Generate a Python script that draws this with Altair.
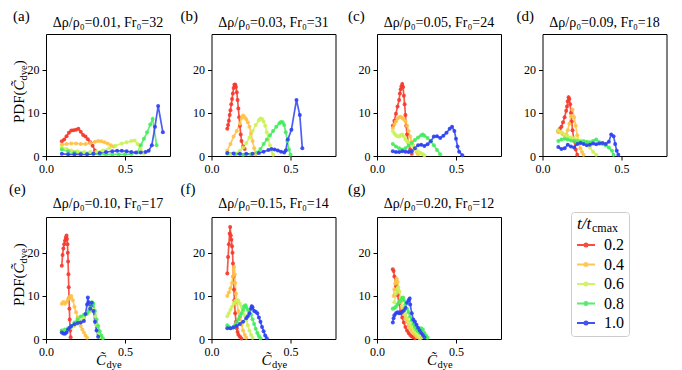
import altair as alt
import pandas as pd

SERIF = "Liberation Serif"
SERIES = ["0.2", "0.4", "0.6", "0.8", "1.0"]
COLORS = ["#f53a2e", "#ffc247", "#cdf25a", "#45ec5e", "#2d42f2"]
LETTERS = ["(a)", "(b)", "(c)", "(d)", "(e)", "(f)", "(g)"]
TITLES = ["Δρ/ρ₀=0.01, Fr₀=32", "Δρ/ρ₀=0.03, Fr₀=31", "Δρ/ρ₀=0.05, Fr₀=24",
          "Δρ/ρ₀=0.09, Fr₀=18", "Δρ/ρ₀=0.10, Fr₀=17", "Δρ/ρ₀=0.15, Fr₀=14",
          "Δρ/ρ₀=0.20, Fr₀=12"]
X_TICKS = [0.0, 0.5]
Y_TICKS = [0, 10, 20]
X_DOMAIN = [0, 0.785]
Y_DOMAIN = [0, 28.3]
Y_TITLE_PARTS = ["PDF(", "C̃", "dye", ")"]
X_TITLE_PARTS = ["C̃", "dye"]
LEGEND_TITLE_PARTS = ["t/t", "cmax"]

panel_a = {
    "0.2": ([0.10, 0.115, 0.13, 0.145, 0.16, 0.175, 0.19, 0.205, 0.22, 0.235, 0.25, 0.265, 0.28, 0.295, 0.31],
            [3.4, 3.8, 4.6, 5.4, 5.9, 6.0, 6.1, 6.3, 5.6, 4.9, 4.5, 3.9, 3.2, 2.4, 1.3]),
    "0.4": ([0.10, 0.13, 0.16, 0.19, 0.22, 0.25, 0.28, 0.31, 0.33, 0.35, 0.37, 0.39, 0.41, 0.43],
            [2.6, 2.8, 2.9, 2.9, 2.8, 2.8, 3.0, 3.3, 3.5, 3.4, 3.2, 2.9, 2.5, 2.2]),
    "0.6": ([0.10, 0.13, 0.16, 0.20, 0.24, 0.28, 0.32, 0.36, 0.40, 0.44, 0.48, 0.51, 0.54, 0.56, 0.58, 0.60, 0.62],
            [2.0, 1.6, 1.3, 1.1, 0.9, 0.9, 1.0, 1.3, 1.8, 2.4, 2.9, 3.2, 3.5, 3.6, 2.8, 1.6, 0.6]),
    "0.8": ([0.10, 0.14, 0.18, 0.22, 0.26, 0.30, 0.34, 0.38, 0.42, 0.46, 0.50, 0.54, 0.58, 0.60, 0.62, 0.64, 0.66, 0.675, 0.70],
            [1.5, 1.1, 0.8, 0.6, 0.5, 0.5, 0.4, 0.4, 0.4, 0.4, 0.4, 0.5, 0.8, 2.5, 4.0, 5.5, 7.3, 8.6, 2.5]),
    "1.0": ([0.10, 0.14, 0.18, 0.22, 0.26, 0.30, 0.34, 0.38, 0.42, 0.45, 0.48, 0.51, 0.54, 0.57, 0.60, 0.63, 0.65, 0.67, 0.69, 0.71, 0.74],
            [0.5, 0.4, 0.4, 0.4, 0.4, 0.5, 0.7, 0.9, 1.1, 1.2, 1.2, 1.1, 0.9, 0.8, 0.8, 0.9, 1.2, 2.5, 6.8, 11.6, 5.5]),
}
panel_b = {
    "0.2": ([0.10, 0.105, 0.11, 0.115, 0.12, 0.125, 0.13, 0.135, 0.14, 0.145, 0.15, 0.155, 0.16, 0.165, 0.17, 0.175, 0.18, 0.185, 0.19, 0.20, 0.21],
            [6.3, 7.2, 8.2, 9.5, 10.6, 12.0, 13.2, 14.5, 15.8, 16.5, 16.6, 16.0, 14.8, 13.0, 11.0, 9.0, 7.0, 5.0, 3.5, 2.2, 1.6]),
    "0.4": ([0.10, 0.12, 0.14, 0.16, 0.18, 0.19, 0.20, 0.21, 0.22, 0.23, 0.24, 0.25, 0.26, 0.27, 0.28],
            [1.2, 2.8, 4.5, 5.8, 7.5, 8.8, 9.4, 9.0, 8.5, 7.8, 6.8, 5.2, 3.5, 1.8, 0.4]),
    "0.6": ([0.12, 0.15, 0.18, 0.20, 0.22, 0.24, 0.26, 0.28, 0.30, 0.31, 0.32, 0.33, 0.34, 0.35, 0.36, 0.37, 0.38, 0.39],
            [0.4, 0.6, 1.2, 2.0, 3.0, 4.3, 5.8, 7.2, 8.3, 8.7, 8.6, 8.0, 7.0, 5.5, 4.0, 2.5, 1.2, 0.3]),
    "0.8": ([0.10, 0.15, 0.20, 0.25, 0.29, 0.31, 0.33, 0.35, 0.37, 0.39, 0.41, 0.43, 0.44, 0.45, 0.46, 0.47, 0.48, 0.49, 0.50],
            [0.5, 0.4, 0.3, 0.4, 0.8, 1.6, 2.8, 3.8, 4.8, 5.8, 6.8, 7.6, 7.9, 7.8, 7.2, 5.5, 3.5, 1.5, 0.3]),
    "1.0": ([0.10, 0.14, 0.18, 0.22, 0.26, 0.30, 0.33, 0.36, 0.38, 0.40, 0.42, 0.44, 0.46, 0.47, 0.483, 0.506, 0.538, 0.559, 0.575],
            [0.7, 0.6, 0.5, 0.5, 0.5, 0.7, 1.0, 1.4, 1.6, 1.5, 1.3, 1.0, 0.8, 1.3, 3.8, 6.1, 13.0, 9.5, 1.8]),
}
panel_c = {
    "0.2": ([0.10, 0.11, 0.12, 0.13, 0.14, 0.145, 0.15, 0.155, 0.16, 0.165, 0.17, 0.175, 0.18, 0.185, 0.19, 0.20, 0.21, 0.22],
            [7.0, 8.2, 9.8, 11.5, 13.0, 14.5, 15.5, 16.2, 16.7, 16.0, 14.0, 12.0, 9.5, 7.0, 5.0, 3.0, 1.5, 0.5]),
    "0.4": ([0.10, 0.11, 0.12, 0.13, 0.14, 0.15, 0.16, 0.17, 0.18, 0.19, 0.20, 0.21, 0.22, 0.23, 0.24, 0.25, 0.26],
            [6.5, 7.3, 8.0, 8.7, 9.0, 9.1, 8.8, 8.5, 8.0, 7.0, 5.8, 4.5, 3.3, 2.4, 1.6, 0.9, 0.4]),
    "0.6": ([0.10, 0.11, 0.12, 0.13, 0.14, 0.15, 0.16, 0.17, 0.18, 0.19, 0.20, 0.21, 0.22, 0.23, 0.24, 0.25, 0.26, 0.27, 0.28, 0.29, 0.30],
            [5.8, 5.2, 4.8, 4.6, 4.5, 4.8, 5.0, 4.5, 3.8, 3.5, 3.2, 3.0, 2.6, 2.2, 1.8, 1.4, 1.0, 0.8, 0.6, 0.4, 0.2]),
    "0.8": ([0.10, 0.12, 0.14, 0.16, 0.18, 0.20, 0.22, 0.24, 0.26, 0.28, 0.29, 0.30, 0.32, 0.34, 0.36, 0.38, 0.40],
            [2.8, 2.2, 1.8, 1.5, 1.8, 2.4, 3.0, 3.7, 4.3, 4.8, 5.0, 4.7, 4.2, 3.4, 2.5, 1.4, 0.4]),
    "1.0": ([0.10, 0.12, 0.14, 0.16, 0.18, 0.20, 0.22, 0.24, 0.26, 0.28, 0.30, 0.32, 0.34, 0.36, 0.38, 0.40, 0.42, 0.44, 0.46, 0.475, 0.49, 0.50, 0.51, 0.52, 0.54],
            [1.1, 0.9, 0.9, 1.1, 1.0, 0.9, 1.1, 1.8, 2.5, 2.6, 2.3, 2.7, 3.4, 4.5, 4.6, 4.2, 4.7, 5.4, 6.3, 6.8, 5.8, 4.0, 2.2, 1.0, 0.2]),
}
panel_d = {
    "0.2": ([0.10, 0.11, 0.12, 0.13, 0.14, 0.15, 0.155, 0.16, 0.165, 0.17, 0.175, 0.18, 0.185, 0.19, 0.20, 0.21, 0.22],
            [5.8, 6.3, 6.8, 7.8, 9.0, 10.5, 11.5, 12.7, 13.6, 13.2, 12.0, 10.0, 8.0, 6.0, 3.5, 1.5, 0.3]),
    "0.4": ([0.10, 0.11, 0.12, 0.13, 0.14, 0.15, 0.16, 0.17, 0.18, 0.19, 0.20, 0.21, 0.22, 0.23, 0.24, 0.25, 0.26],
            [5.5, 5.6, 5.4, 5.0, 4.8, 5.0, 6.0, 7.5, 9.3, 10.8, 9.0, 7.0, 4.8, 3.0, 1.8, 0.9, 0.3]),
    "0.6": ([0.10, 0.12, 0.14, 0.16, 0.18, 0.20, 0.22, 0.24, 0.26, 0.28, 0.30, 0.32, 0.34],
            [6.0, 5.5, 5.0, 4.6, 4.3, 4.1, 3.8, 3.6, 3.4, 2.9, 2.0, 1.0, 0.3]),
    "0.8": ([0.10, 0.12, 0.14, 0.16, 0.18, 0.20, 0.22, 0.24, 0.26, 0.28, 0.30, 0.32, 0.34, 0.36, 0.38, 0.40, 0.42, 0.44, 0.45],
            [3.5, 3.8, 4.0, 3.8, 3.6, 3.5, 3.4, 3.3, 3.4, 3.3, 3.2, 3.5, 3.8, 3.2, 2.8, 2.5, 2.0, 1.2, 0.3]),
    "1.0": ([0.10, 0.12, 0.14, 0.16, 0.18, 0.20, 0.22, 0.24, 0.26, 0.28, 0.30, 0.32, 0.34, 0.36, 0.38, 0.40, 0.42, 0.435, 0.45, 0.46, 0.47, 0.48],
            [2.1, 1.6, 1.8, 2.6, 2.2, 2.0, 2.8, 3.0, 2.8, 2.5, 2.6, 2.9, 2.7, 2.9, 3.0, 2.8, 3.3, 5.0, 4.6, 2.8, 1.2, 0.3]),
}
panel_e = {
    "0.2": ([0.10, 0.105, 0.11, 0.115, 0.12, 0.125, 0.13, 0.133, 0.136, 0.138, 0.14, 0.142, 0.144, 0.146, 0.148, 0.15, 0.153, 0.156],
            [17.0, 19.5, 21.0, 22.0, 22.8, 23.5, 24.0, 23.2, 22.0, 20.0, 18.0, 15.0, 12.0, 9.5, 7.0, 4.5, 2.0, 0.4]),
    "0.4": ([0.10, 0.11, 0.12, 0.13, 0.14, 0.15, 0.16, 0.17, 0.18, 0.19, 0.20, 0.21, 0.22, 0.23, 0.24, 0.25, 0.26],
            [8.2, 8.6, 8.2, 8.6, 9.2, 9.7, 10.0, 9.0, 7.5, 6.2, 5.0, 4.0, 3.0, 2.2, 1.5, 0.8, 0.3]),
    "0.6": ([0.10, 0.12, 0.14, 0.16, 0.18, 0.20, 0.22, 0.24, 0.26, 0.28, 0.29, 0.30, 0.31, 0.32, 0.33, 0.34],
            [2.0, 2.0, 2.2, 2.6, 3.0, 3.5, 4.2, 5.0, 5.8, 6.5, 7.0, 6.8, 5.2, 3.2, 1.5, 0.4]),
    "0.8": ([0.10, 0.12, 0.14, 0.16, 0.18, 0.20, 0.22, 0.24, 0.26, 0.27, 0.28, 0.29, 0.30, 0.31, 0.32, 0.33, 0.34, 0.35, 0.36],
            [2.0, 2.2, 2.5, 3.0, 3.8, 4.5, 5.2, 5.6, 6.0, 6.5, 7.2, 8.5, 8.2, 6.5, 4.5, 3.0, 1.8, 0.8, 0.2]),
    "1.0": ([0.10, 0.11, 0.12, 0.13, 0.14, 0.15, 0.16, 0.18, 0.20, 0.22, 0.24, 0.25, 0.26, 0.265, 0.27, 0.28, 0.29, 0.30, 0.31, 0.32, 0.33],
            [1.5, 1.3, 1.2, 1.5, 2.2, 2.6, 3.0, 3.4, 3.7, 3.8, 4.2, 5.8, 8.0, 9.6, 8.5, 7.0, 8.4, 6.5, 4.0, 2.0, 0.5]),
}
panel_f = {
    "0.2": ([0.10, 0.105, 0.11, 0.115, 0.118, 0.122, 0.126, 0.13, 0.133, 0.136, 0.139, 0.142, 0.145, 0.15, 0.155, 0.16, 0.165, 0.17, 0.18, 0.19],
            [15.2, 19.0, 22.0, 24.5, 26.0, 24.0, 23.0, 21.5, 20.0, 17.5, 14.5, 11.5, 9.0, 6.0, 4.0, 2.5, 1.6, 1.0, 0.5, 0.1]),
    "0.4": ([0.10, 0.11, 0.12, 0.13, 0.135, 0.14, 0.143, 0.147, 0.15, 0.155, 0.16, 0.17, 0.18, 0.19, 0.20, 0.21, 0.22],
            [10.0, 10.8, 11.8, 13.0, 14.5, 16.0, 16.7, 15.0, 13.0, 10.5, 8.5, 6.5, 4.8, 3.3, 2.0, 1.0, 0.3]),
    "0.6": ([0.10, 0.11, 0.12, 0.13, 0.14, 0.15, 0.16, 0.165, 0.17, 0.18, 0.19, 0.20, 0.21, 0.22, 0.23, 0.24, 0.25, 0.26],
            [5.3, 6.0, 6.8, 7.5, 8.2, 8.8, 9.0, 9.0, 8.8, 8.2, 7.5, 6.5, 5.5, 4.3, 3.2, 2.0, 1.0, 0.3]),
    "0.8": ([0.10, 0.11, 0.12, 0.13, 0.14, 0.15, 0.16, 0.17, 0.18, 0.19, 0.20, 0.207, 0.215, 0.22, 0.23, 0.24, 0.25, 0.26, 0.27, 0.28, 0.29, 0.30, 0.31],
            [3.2, 2.8, 2.5, 2.5, 2.8, 3.3, 3.9, 4.6, 5.3, 6.0, 6.8, 7.6, 7.8, 7.3, 6.8, 6.3, 5.6, 4.6, 3.5, 2.4, 1.4, 0.7, 0.2]),
    "1.0": ([0.10, 0.12, 0.14, 0.16, 0.18, 0.20, 0.22, 0.23, 0.24, 0.25, 0.255, 0.26, 0.27, 0.28, 0.29, 0.30, 0.31, 0.32, 0.33, 0.34, 0.35],
            [2.5, 2.5, 2.7, 3.0, 3.5, 4.0, 4.8, 5.3, 6.0, 7.0, 7.6, 7.3, 6.5, 6.3, 6.0, 5.0, 4.0, 2.8, 1.8, 0.8, 0.2]),
}
panel_g = {
    "0.2": ([0.10, 0.105, 0.11, 0.12, 0.13, 0.14, 0.15, 0.16, 0.17, 0.18, 0.19, 0.20, 0.21, 0.22, 0.23, 0.24],
            [16.2, 15.8, 14.5, 12.3, 10.2, 8.3, 6.5, 5.0, 3.8, 2.8, 2.0, 1.4, 0.9, 0.6, 0.4, 0.2]),
    "0.4": ([0.105, 0.11, 0.115, 0.12, 0.125, 0.13, 0.14, 0.15, 0.16, 0.17, 0.18, 0.19, 0.20, 0.21, 0.22, 0.23, 0.24, 0.25, 0.26, 0.27],
            [10.0, 11.5, 12.8, 13.5, 14.0, 13.2, 11.0, 8.5, 7.0, 5.8, 4.8, 4.0, 3.2, 2.5, 1.9, 1.4, 1.0, 0.6, 0.4, 0.2]),
    "0.6": ([0.11, 0.12, 0.13, 0.135, 0.14, 0.15, 0.16, 0.17, 0.18, 0.19, 0.20, 0.21, 0.22, 0.23, 0.24, 0.25, 0.26, 0.27, 0.28],
            [8.5, 10.5, 11.8, 12.0, 11.0, 9.0, 7.5, 6.5, 5.6, 4.8, 4.0, 3.3, 2.7, 2.1, 1.6, 1.2, 0.8, 0.5, 0.3]),
    "0.8": ([0.10, 0.11, 0.12, 0.13, 0.14, 0.15, 0.16, 0.165, 0.17, 0.18, 0.19, 0.20, 0.21, 0.22, 0.23, 0.24, 0.25, 0.26, 0.27, 0.28, 0.29, 0.30, 0.31, 0.32],
            [7.0, 7.2, 7.5, 8.0, 8.5, 9.0, 9.5, 9.6, 9.0, 8.0, 7.0, 6.2, 5.2, 4.3, 3.5, 2.8, 2.2, 1.8, 1.5, 2.5, 2.2, 1.4, 0.8, 0.3]),
    "1.0": ([0.10, 0.105, 0.11, 0.12, 0.13, 0.14, 0.15, 0.16, 0.17, 0.18, 0.19, 0.20, 0.207, 0.21, 0.22, 0.23, 0.24, 0.25, 0.26, 0.27, 0.28, 0.29, 0.30],
            [3.8, 4.8, 5.5, 6.0, 6.2, 6.0, 6.0, 6.3, 6.6, 7.2, 8.4, 9.0, 9.4, 8.0, 6.0, 4.5, 4.0, 3.3, 2.6, 2.0, 1.4, 0.9, 0.4]),
}
PANELS = [panel_a, panel_b, panel_c, panel_d, panel_e, panel_f, panel_g]

# layout (pixels)
W, H = 124, 122
LETTER_DX = [-33, -31, -29, -26, -37, -31, -29]
LETTER_DY = [-13, -13, -13, -13, -23, -23, -23]
TITLE_DY = [-7, -7, -7, -7, -9, -9, -9]

LEGEND = alt.Legend(
    title=" ", orient="none", legendX=525, legendY=178,
    symbolType="M-1,0L1,0M-0.17,0A0.17,0.17,0,1,1,0.17,0A0.17,0.17,0,1,1,-0.17,0",
    symbolSize=324, symbolStrokeWidth=2, symbolOpacity=0.9,
    labelFont=SERIF, labelFontSize=16, labelColor="black", labelOffset=8,
    padding=5, strokeColor="#cccccc", cornerRadius=3,
    rowPadding=1.5, titleFontSize=16, titlePadding=2,
)


def text_layer(txt, x, y, size, style="normal", angle=0, align="left"):
    return alt.Chart(pd.DataFrame({"txt": [txt]})).mark_text(
        align=align, baseline="alphabetic", font=SERIF, fontSize=size,
        fontStyle=style, angle=angle, color="black",
    ).encode(x=alt.value(x), y=alt.value(y), text="txt:N")


def make_panel(i):
    rows = []
    for s in SERIES:
        xs, ys = PANELS[i][s]
        for xv, yv in zip(xs, ys):
            rows.append({"C": xv, "P": yv, "t": s})
    df = pd.DataFrame(rows)
    x = alt.X("C:Q", scale=alt.Scale(domain=X_DOMAIN, nice=False, zero=False),
              axis=alt.Axis(values=X_TICKS, format=".1f", title=None, labelFlush=False))
    y = alt.Y("P:Q", scale=alt.Scale(domain=Y_DOMAIN, nice=False),
              axis=alt.Axis(values=Y_TICKS, format="d", title=None, labelFlush=False))
    color = alt.Color("t:N", scale=alt.Scale(domain=SERIES, range=COLORS), legend=LEGEND)
    base = alt.Chart(df)
    line = base.mark_line(strokeWidth=1.7, opacity=0.85).encode(x=x, y=y, color=color)
    pts = base.mark_circle(size=16, opacity=0.9).encode(x=x, y=y, color=color)
    layers = [
        line, pts,
        text_layer(LETTERS[i], LETTER_DX[i], LETTER_DY[i], 15),
        text_layer(TITLES[i], W / 2, TITLE_DY[i], 14, align="center"),
    ]
    if i in (0, 4):
        yb = 89
        layers += [
            text_layer(Y_TITLE_PARTS[0], -22, yb, 15, angle=270),
            text_layer(Y_TITLE_PARTS[1], -22, yb - 32.5, 15, style="italic", angle=270),
            text_layer(Y_TITLE_PARTS[2], -19, yb - 42.5, 10.5, angle=270),
            text_layer(Y_TITLE_PARTS[3], -22, yb - 57.7, 15, angle=270),
        ]
    if i >= 4:
        layers += [
            text_layer(X_TITLE_PARTS[0], 50, H + 26, 15, style="italic"),
            text_layer(X_TITLE_PARTS[1], 60.5, H + 29, 10.5),
        ]
    if i == 6:
        layers += [
            text_layer(LEGEND_TITLE_PARTS[0], 200, 12, 17, style="italic"),
            text_layer(LEGEND_TITLE_PARTS[1], 215, 15, 12),
        ]
    return alt.layer(*layers).properties(width=W, height=H)


chart = alt.concat(
    *[make_panel(i) for i in range(7)],
    columns=4, spacing={"row": 61, "column": 41.5}, bounds="flush",
).properties(
    padding={"left": 0, "top": 0, "right": 5, "bottom": 0},
).configure_view(
    stroke="black", strokeWidth=1,
).configure_axis(
    domain=False, grid=False, ticks=True, tickColor="black", tickSize=4, tickWidth=1,
    labelFont=SERIF, labelFontSize=12, labelColor="black", labelPadding=3,
)

chart.save("out.html", embed_options={"renderer": "svg", "actions": False})
